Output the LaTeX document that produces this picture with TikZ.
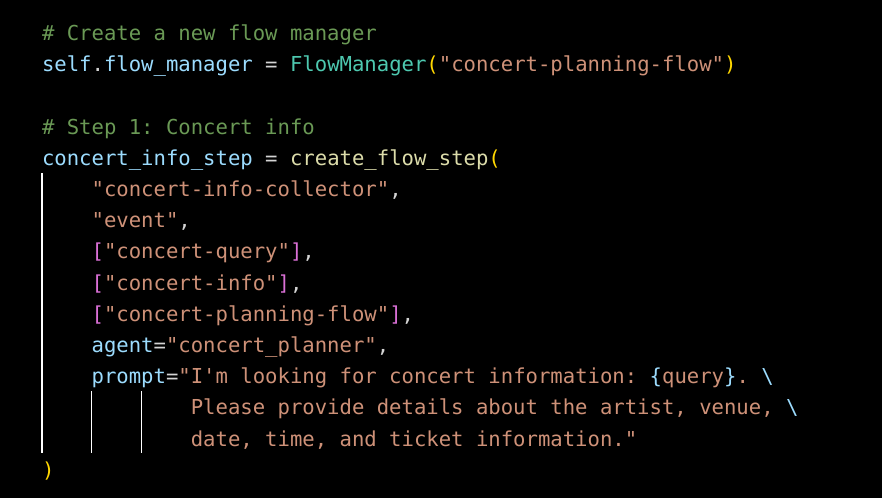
\documentclass[tikz,border=0pt]{standalone}
\usepackage{fontspec}
\setmonofont{DejaVu Sans Mono}
\usetikzlibrary{positioning}
\definecolor{bgColor}{HTML}{000000}
\definecolor{cmColor}{HTML}{6A9955}
\definecolor{varColor}{HTML}{9CDCFE}
\definecolor{clsColor}{HTML}{4EC9B0}
\definecolor{fnColor}{HTML}{DCDCAA}
\definecolor{strColor}{HTML}{CE9178}
\definecolor{parColor}{HTML}{FFD700}
\definecolor{brkColor}{HTML}{DA70D6}
\definecolor{txtColor}{HTML}{D4D4D4}
\newcommand{\cmt}[1]{\textcolor{cmColor}{#1}}
\newcommand{\vr}[1]{\textcolor{varColor}{#1}}
\newcommand{\cls}[1]{\textcolor{clsColor}{#1}}
\newcommand{\fn}[1]{\textcolor{fnColor}{#1}}
\newcommand{\str}[1]{\textcolor{strColor}{#1}}
\newcommand{\prn}[1]{\textcolor{parColor}{#1}}
\newcommand{\brk}[1]{\textcolor{brkColor}{#1}}
\tikzset{
	codeline/.style={anchor=base west, inner sep=0, outer sep=0, text=txtColor,
		font=\fontsize{20.6}{24}\ttfamily},
	guide/.style={draw=white, line width=1.2pt}
}

\begin{document}
\begin{tikzpicture}[x=1pt,y=1pt]
	\fill[bgColor] (0,0) rectangle (882,-498);
	\useasboundingbox (0,0) rectangle (882,-498);
	% one node per line of code, baseline 7pt below the line centre
	\node[codeline] (l0) at (42,-40.5) {\cmt{\# Create a new flow manager}};
	\node[codeline] (l1) at (42,-71.7) {\vr{self}.\vr{flow\_manager} = \cls{FlowManager}\prn{(}\str{"concert-planning-flow"}\prn{)}};
	\node[codeline] (l3) at (42,-134.1) {\cmt{\# Step 1: Concert info}};
	\node[codeline] (l4) at (42,-165.3) {\vr{concert\_info\_step} = \fn{create\_flow\_step}\prn{(}};
	\node[codeline] (l5) at (91.6,-196.5) {\str{"concert-info-collector"},};
	\node[codeline] (l6) at (91.6,-227.7) {\str{"event"},};
	\node[codeline] (l7) at (91.6,-258.9) {\brk{[}\str{"concert-query"}\brk{]},};
	\node[codeline] (l8) at (91.6,-290.1) {\brk{[}\str{"concert-info"}\brk{]},};
	\node[codeline] (l9) at (91.6,-321.3) {\brk{[}\str{"concert-planning-flow"}\brk{]},};
	\node[codeline] (l10) at (91.6,-352.5) {\vr{agent}=\str{"concert\_planner"},};
	\node[codeline] (l11) at (91.6,-383.7) {\vr{prompt}=\str{"I'm looking for concert information: }\textcolor{varColor}{\{}\str{query}\textcolor{varColor}{\}}\str{. }\textcolor{varColor}{\textbackslash}};
	\node[codeline] (l12) at (190.8,-414.9) {\str{Please provide details about the artist, venue, }\textcolor{varColor}{\textbackslash}};
	\node[codeline] (l13) at (190.8,-446.1) {\str{date, time, and ticket information."}};
	\node[codeline] (l14) at (42,-477.3) {\prn{)}};
	% indent guides
	\coordinate (g0top) at (42,-173);
	\coordinate (g0bot) at (42,-453);
	\coordinate (g1top) at (91.6,-391);
	\coordinate (g1bot) at (91.6,-453);
	\coordinate (g2top) at (141.2,-391);
	\coordinate (g2bot) at (141.2,-453);
	\draw[guide] (g0top) -- (g0bot);
	\draw[guide] (g1top) -- (g1bot);
	\draw[guide] (g2top) -- (g2bot);
\end{tikzpicture}
\end{document}
